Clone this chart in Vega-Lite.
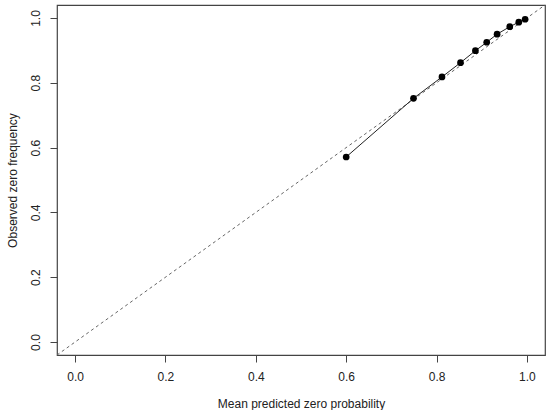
{
  "$schema": "https://vega.github.io/schema/vega-lite/v6.json",
  "width": 488,
  "height": 350,
  "autosize": {"type": "none"},
  "padding": {"left": 57, "top": 5, "right": 5, "bottom": 55},
  "background": "white",
  "config": {
    "view": {"stroke": "#444", "strokeWidth": 1.2},
    "font": "Liberation Sans",
    "axis": {
      "domain": false,
      "grid": false,
      "tickColor": "#444",
      "tickSize": 7,
      "labelFont": "Liberation Sans",
      "labelFontSize": 12,
      "labelColor": "#222",
      "titleFont": "Liberation Sans",
      "titleFontSize": 12,
      "titleFontWeight": "normal",
      "titleColor": "#222"
    }
  },
  "datasets": {
    "pts": [
      {"pred": 0.600, "obs": 0.571},
      {"pred": 0.749, "obs": 0.752},
      {"pred": 0.812, "obs": 0.818},
      {"pred": 0.853, "obs": 0.862},
      {"pred": 0.886, "obs": 0.899},
      {"pred": 0.911, "obs": 0.925},
      {"pred": 0.934, "obs": 0.950},
      {"pred": 0.962, "obs": 0.973},
      {"pred": 0.982, "obs": 0.987},
      {"pred": 0.996, "obs": 0.996}
    ],
    "diag": [
      {"pred": -0.04, "obs": -0.04},
      {"pred": 1.04, "obs": 1.04}
    ]
  },
  "layer": [
    {
      "data": {"name": "diag"},
      "mark": {"type": "line", "color": "#666", "strokeWidth": 1, "strokeDash": [3, 3]},
      "encoding": {
        "x": {"field": "pred", "type": "quantitative", "scale": {"domain": [-0.04, 1.04], "nice": false, "zero": false},
              "axis": {"values": [0, 0.2, 0.4, 0.6, 0.8, 1.0], "format": ".1f", "title": "Mean predicted zero probability", "labelPadding": 9, "titlePadding": 16}},
        "y": {"field": "obs", "type": "quantitative", "scale": {"domain": [-0.04, 1.04], "nice": false, "zero": false},
              "axis": {"values": [0, 0.2, 0.4, 0.6, 0.8, 1.0], "format": ".1f", "title": "Observed zero frequency", "labelAngle": -90, "labelAlign": "center", "labelBaseline": "bottom", "labelPadding": 8, "titlePadding": 10}}
      }
    },
    {
      "data": {"name": "pts"},
      "mark": {"type": "line", "color": "#222", "strokeWidth": 1},
      "encoding": {
        "x": {"field": "pred", "type": "quantitative"},
        "y": {"field": "obs", "type": "quantitative"}
      }
    },
    {
      "data": {"name": "pts"},
      "mark": {"type": "point", "filled": true, "color": "black", "size": 45, "opacity": 1},
      "encoding": {
        "x": {"field": "pred", "type": "quantitative"},
        "y": {"field": "obs", "type": "quantitative"}
      }
    }
  ]
}
